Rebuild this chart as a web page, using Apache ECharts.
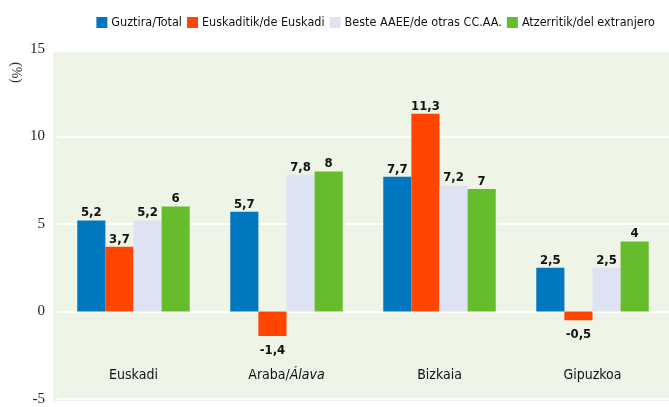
<!DOCTYPE html>
<html>
<head>
<meta charset="utf-8">
<script src="https://cdn.jsdelivr.net/npm/echarts@6/dist/echarts.min.js"></script>
<style>
  html, body { margin: 0; padding: 0; background: #fff; }
  #chart { width: 669px; height: 407px; }
</style>
</head>
<body>
<div id="chart"></div>
<script>
// data
const categories = ['Euskadi', 'Araba/Álava', 'Bizkaia', 'Gipuzkoa']
const seriesNames = ['Guztira/Total', 'Euskaditik/de Euskadi', 'Beste AAEE/de otras CC.AA.', 'Atzerritik/del extranjero']
const total = [5.2, 5.7, 7.7, 2.5]
const euskadi = [3.7, -1.4, 11.3, -0.5]
const otrasCCAA = [5.2, 7.8, 7.2, 2.5]
const extranjero = [6, 8, 7, 4]
const yTicks = [-5, 0, 5, 10, 15]

const colors = ['#0077be', '#ff4500', '#dde3f2', '#66bd2b']
const narrow = '"DejaVu Sans Condensed", "Liberation Sans Narrow", sans-serif'

const chart = echarts.init(document.getElementById('chart'))

function makeSerie(name, values, i) {
  return {
    name: name,
    type: 'bar',
    barGap: 0,
    barCategoryGap: '26.5%',
    itemStyle: { color: colors[i] },
    data: values.map(v => ({
      value: v,
      label: { position: v < 0 ? 'bottom' : 'top', distance: v < 0 ? 8 : 1 }
    })),
    label: {
      show: true,
      fontFamily: narrow,
      fontWeight: 'bold',
      fontSize: 13,
      color: '#111',
      formatter: p => String(p.value).replace('.', ',')
    }
  }
}

const option = {
  animation: false,
  color: colors,
  graphic: [{
    type: 'rect',
    z: -10,
    shape: { x: 53, y: 52, width: 616, height: 349 },
    style: { fill: '#eef4e6' }
  }, {
    type: 'text',
    x: 23,
    y: 62,
    rotation: -Math.PI / 2,
    style: { text: '(%)', fontFamily: '"Liberation Serif", serif', fontSize: 14, fill: '#333' }
  }],
  legend: {
    data: seriesNames,
    right: 9,
    top: 11,
    itemWidth: 11,
    itemHeight: 11,
    itemGap: 5,
    icon: 'rect',
    textStyle: { fontFamily: narrow, fontSize: 12.5, color: '#111', padding: [0, 0, 0, -1] }
  },
  grid: { left: 57, top: 49, width: 622, height: 350, containLabel: false },
  xAxis: {
    type: 'category',
    data: categories,
    axisLine: { show: false, onZero: false },
    axisTick: { show: false },
    axisLabel: {
      margin: -31,
      fontFamily: narrow,
      fontSize: 14,
      color: '#111',
      formatter: v => v === 'Araba/Álava' ? 'Araba/{i|Álava}' : v,
      rich: { i: { fontFamily: narrow, fontSize: 14, fontStyle: 'italic', color: '#111' } }
    }
  },
  yAxis: {
    type: 'value',
    min: yTicks[0],
    max: yTicks[yTicks.length - 1],
    interval: 5,
    axisLine: { show: false },
    axisTick: { show: false },
    splitLine: { show: true, lineStyle: { color: '#ffffff', width: 2 } },
    axisLabel: {
      margin: 12,
      fontFamily: '"Liberation Serif", serif',
      fontSize: 15,
      color: '#222',
      formatter: v => yTicks.includes(v) ? String(v) : ''
    }
  },
  series: [
    makeSerie(seriesNames[0], total, 0),
    makeSerie(seriesNames[1], euskadi, 1),
    makeSerie(seriesNames[2], otrasCCAA, 2),
    makeSerie(seriesNames[3], extranjero, 3)
  ]
}

chart.setOption(option)
</script>
</body>
</html>
